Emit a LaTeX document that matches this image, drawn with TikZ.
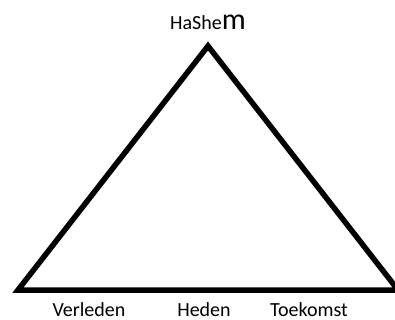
\documentclass[tikz,border=0pt]{standalone}
\usepackage{fontspec}
\setmainfont{Carlito}
\usetikzlibrary{positioning}
\begin{document}
\begin{tikzpicture}[
      x=1pt, y=-1pt,
      rand/.style={line width=5.5pt, miter limit=20},
      label/.style={font=\fontsize{20}{22}\selectfont, inner sep=0pt, anchor=base}
  ]
      \useasboundingbox (0,0) rectangle (395,320);

      % Hoekpunten van de driehoek
      \coordinate (top) at (208,46);
      \coordinate (links) at (18,290);
      \coordinate (rechts) at (398,290);

      \draw[rand] (links) -- (top) -- (rechts) -- cycle;

      % Teksten
      \node[label] (hashem) at (208,30) {HaShe{\fontsize{30}{32}\selectfont m}};
      \node[label] (verleden) at (89,316) {Verleden};
      \node[label] (heden) at (204,316) {Heden};
      \node[label] (toekomst) at (309,316) {Toekomst};
\end{tikzpicture}
\end{document}
